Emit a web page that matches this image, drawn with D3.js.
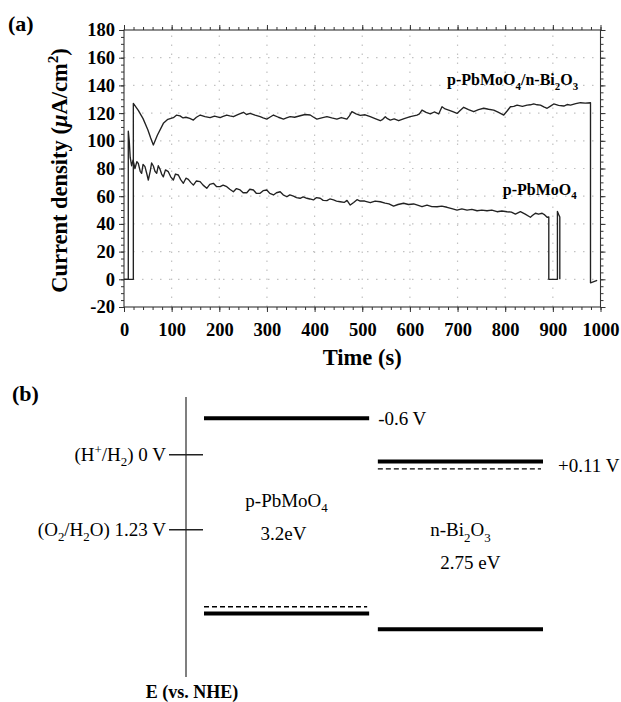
<!DOCTYPE html>
<html><head><meta charset="utf-8">
<script src="https://cdn.jsdelivr.net/npm/d3@7"></script>
<style>body{margin:0;background:#fff}svg{display:block}</style>
</head><body>
<svg id="chart" width="621" height="702"></svg>
<script>
// ---------- Panel (a) data ----------
const xTicks = [0,100,200,300,400,500,600,700,800,900,1000];
const yTicks = [-20,0,20,40,60,80,100,120,140,160,180];
const seriesNames = ["p-PbMoO4/n-Bi2O3", "p-PbMoO4"];
// [time (s), current density (uA/cm2)]
const heteroSeries = [[0,0],[19.6,0],[19.6,127],[30,122],[40,116],[50,108],[56,102],[61.6,97],[70,104],[82.6,112.6],[92,115.5],[103.6,116.7],[110,118.5],[117.6,118],[124,116.5],[130,117],[138,116.2],[145.6,115],[152,117],[160,118.6],[170,117.5],[180.7,116.7],[190,117.8],[201.7,116.7],[208,117.6],[215.7,118.6],[222,118],[229.6,117.4],[240,119],[250.7,120.6],[257,119],[264.7,119.8],[275,118.5],[285.7,117.4],[292,116.5],[299.7,115.7],[306,117],[313.7,118.6],[324,117],[334.7,115.7],[341,116.5],[348.7,117.4],[358,117],[369.7,118.1],[380,119],[390.8,118.6],[398,117],[404.8,115.7],[415,116.6],[425.8,117.4],[436,116.5],[446.8,115.7],[456,116.8],[467.8,115.7],[473,118],[478.3,121],[487,119.5],[495.8,118.3],[506,118.8],[516.8,117.4],[527,116],[537.8,114.5],[543,115.5],[548.3,117.4],[553,116],[558.8,115],[567,115.8],[576.3,114.5],[588,116],[600.8,117.4],[608,118],[614.9,118.6],[620,119.5],[625.4,122.2],[634,120.5],[642.9,119.4],[651,120.8],[660.4,119.4],[664,122],[667.4,124.6],[674,123],[681.4,122.2],[690,121],[698.9,119.8],[706,122],[712.9,124.2],[723,122.5],[733.9,121],[744,122.5],[754.9,123.5],[765,122.8],[775.9,122.2],[786,120.5],[796.9,118.6],[804,121.5],[811,124.6],[818,124.8],[825,125.8],[836,124.9],[846,125.8],[853,126],[859.9,126.6],[867,126],[874,125.8],[881,124.5],[888,123.5],[895,125],[901.9,126.6],[912,125.6],[923,125.1],[930,126.2],[937,125.8],[948,126.8],[958,127.5],[968,127.2],[979,127.5],[979,-2.5],[993,-0.8]];
const pbmoSeries = [[0,0],[9,0],[9,107],[11,100],[13,88],[16,82],[19,86],[23,80],[27,85],[30,83.7],[34,78],[37,76.5],[40,83],[44,81.3],[48,76],[51,71.7],[55,78],[58,84],[61.6,81.8],[65,78],[68.6,76.5],[72,82],[75.6,79.4],[79,76],[82.6,74],[87,79],[93,77.7],[98,74],[103.6,71.7],[108,76],[114,75.3],[119,72],[124.6,69.3],[130,73],[135,72.2],[140,70],[145.6,68],[152,71],[159.7,70.5],[166,68],[173.7,65.7],[180,68.5],[187.6,69.3],[194,67],[201.7,66.9],[208,68],[215.7,66.9],[222,65],[229.6,63.2],[236,65.5],[243.7,64.5],[250,62.5],[257.7,62.5],[264,65],[271.6,64.5],[278,62],[285.7,62.1],[292,64],[299.7,64.5],[306,62],[313.7,60.9],[320,62.5],[327.7,63.2],[334,61],[341.8,59.6],[348,61],[355.7,60.1],[362,59],[369.7,58.5],[376,59.5],[383.8,58.5],[390,58],[397.7,57.3],[404,59],[411.8,58.5],[418,57],[425.8,56.8],[432,58],[439.7,57.3],[446,56.5],[453.8,56],[462,55.5],[468,57],[474.8,53.6],[482,55.5],[489,57.5],[495.8,56.5],[505,56.5],[516.8,55.3],[527,56.5],[537.8,56],[548,55],[556,54.5],[565.8,52.9],[575,54],[586.8,54.9],[597,54],[607.8,54.4],[616,53.5],[625.4,52.4],[635.9,53.6],[646,52.5],[656.9,52.4],[667,52.8],[677.9,52],[688,51],[698.9,50],[709,50.8],[719.9,50],[730,50.5],[740.9,49.5],[751,50],[761.8,49.5],[772,50],[782.9,48.8],[793,49.3],[803.9,48.8],[813,48.5],[821.4,47.1],[831.9,48.8],[842,47],[852.9,44.8],[857,46],[863.4,47.7],[870,47],[877.5,47.7],[883,46.5],[888,44.8],[891.5,45],[891.5,0],[909.6,0],[909.6,49],[912,47],[914.6,45],[914.6,0]];

// ---------- Panel (b) data ----------
const redoxNames = ["H+/H2", "O2/H2O"];
const redoxPotentials = [0, 1.23];
const materials = ["p-PbMoO4", "n-Bi2O3"];
const conductionBand = [-0.6, 0.11];
const valenceBand = [2.6, 2.86];
const fermiLevel = [2.49, 0.23];
const bandGapLabels = ["3.2eV", "2.75 eV"];
const cbLabels = ["-0.6 V", "+0.11 V"];

// ---------- helpers ----------
const FONT = "'Liberation Serif','Times New Roman',serif";
const svg = d3.select("#chart");

function rich(textSel, parts, size) {
  let cur = 0;
  parts.forEach(p => {
    const [t, k] = Array.isArray(p) ? p : [p, ""];
    const shift = k === "sub" ? size * 0.28 : k === "sup" ? -size * 0.38 : 0;
    const ts = textSel.append("tspan").text(t);
    if (shift - cur !== 0) ts.attr("dy", shift - cur);
    if (k === "sub" || k === "sup") ts.attr("font-size", size * 0.68);
    if (k === "it") ts.attr("font-style", "italic");
    cur = shift;
  });
}
function chemParts(name) {
  const out = [];
  let buf = "";
  for (let i = 0; i < name.length; i++) {
    const c = name[i], prev = name[i - 1];
    if (/[0-9]/.test(c) && prev && /[A-Za-z]/.test(prev)) { if (buf) out.push(buf); buf = ""; out.push([c, "sub"]); }
    else if (c === "+" && prev && /[A-Za-z]/.test(prev)) { if (buf) out.push(buf); buf = ""; out.push([c, "sup"]); }
    else buf += c;
  }
  if (buf) out.push(buf);
  return out;
}

// ---------- Panel (a) ----------
const x = d3.scaleLinear().domain([0, 1000]).range([124, 600.5]);
const y = d3.scaleLinear().domain([-20, 180]).range([307, 30]);
const gA = svg.append("g");

// dotted grid
gA.append("g").selectAll("line").data(xTicks.slice(1, -1)).join("line")
  .attr("x1", d => x(d)).attr("x2", d => x(d)).attr("y1", y(-20)).attr("y2", y(180))
  .attr("stroke", "#c2c2c2").attr("stroke-width", 1.2).attr("stroke-dasharray", "1.5,7.5");
gA.append("g").selectAll("line").data(yTicks.slice(1, -1)).join("line")
  .attr("y1", d => y(d)).attr("y2", d => y(d)).attr("x1", x(0)).attr("x2", x(1000))
  .attr("stroke", "#c2c2c2").attr("stroke-width", 1.2).attr("stroke-dasharray", "1.5,7.5");

function styleAxis(g) {
  g.select(".domain").remove();
  g.selectAll("line").attr("stroke", "#333").attr("stroke-width", 1);
  g.selectAll("text").attr("font-family", FONT).attr("font-weight", "bold")
    .attr("font-size", 18.5).attr("fill", "#000");
}
const fmt = d => String(d);
const minorX = d3.range(0, 1001, 20), minorY = d3.range(-20, 181, 5);
const bottomY = y(-20), topY = y(180), leftX = x(0), rightX = x(1000);
// minor ticks
gA.append("g").attr("transform", `translate(0,${bottomY})`).call(d3.axisBottom(x).tickValues(minorX).tickSize(3).tickFormat("")).call(styleAxis);
gA.append("g").attr("transform", `translate(0,${topY})`).call(d3.axisTop(x).tickValues(minorX).tickSize(3).tickFormat("")).call(styleAxis);
gA.append("g").attr("transform", `translate(${leftX},0)`).call(d3.axisLeft(y).tickValues(minorY).tickSize(3).tickFormat("")).call(styleAxis);
gA.append("g").attr("transform", `translate(${rightX},0)`).call(d3.axisRight(y).tickValues(minorY).tickSize(3).tickFormat("")).call(styleAxis);
// major ticks
gA.append("g").attr("transform", `translate(0,${bottomY})`).call(d3.axisBottom(x).tickValues(xTicks).tickSize(5).tickPadding(11).tickFormat(fmt)).call(styleAxis);
gA.append("g").attr("transform", `translate(0,${topY})`).call(d3.axisTop(x).tickValues(xTicks).tickSize(5).tickFormat("")).call(styleAxis);
gA.append("g").attr("transform", `translate(${leftX},0)`).call(d3.axisLeft(y).tickValues(yTicks).tickSize(5).tickPadding(4).tickFormat(fmt)).call(styleAxis);
gA.append("g").attr("transform", `translate(${rightX},0)`).call(d3.axisRight(y).tickValues(yTicks).tickSize(5).tickFormat("")).call(styleAxis);

// frame
gA.append("rect").attr("x", leftX).attr("y", topY).attr("width", rightX - leftX).attr("height", bottomY - topY)
  .attr("fill", "none").attr("stroke", "#333").attr("stroke-width", 1.1);

// curves
const line = d3.line().x(d => x(d[0])).y(d => y(d[1]));
[pbmoSeries, heteroSeries].forEach(s => {
  gA.append("path").datum(s).attr("d", line).attr("fill", "none")
    .attr("stroke", "#222").attr("stroke-width", 1.35).attr("stroke-linejoin", "round");
});

// series labels
const lab1 = gA.append("text").attr("x", x(678)).attr("y", y(140)).attr("font-family", FONT)
  .attr("font-weight", "bold").attr("font-size", 16);
rich(lab1, chemParts(seriesNames[0]), 16);
const lab2 = gA.append("text").attr("x", x(795)).attr("y", y(61)).attr("font-family", FONT)
  .attr("font-weight", "bold").attr("font-size", 16);
rich(lab2, chemParts(seriesNames[1]), 16);

// axis titles
gA.append("text").attr("x", (leftX + rightX) / 2).attr("y", 365).attr("text-anchor", "middle")
  .attr("font-family", FONT).attr("font-weight", "bold").attr("font-size", 22.5).text("Time (s)");
const yl = gA.append("text").attr("transform", `translate(67,${(topY + bottomY) / 2 + 2}) rotate(-90)`)
  .attr("text-anchor", "middle").attr("font-family", FONT).attr("font-weight", "bold").attr("font-size", 22.5);
rich(yl, ["Current density (", ["\u03BC", "it"], "A/cm", ["2", "sup"], ")"], 22.5);

gA.append("text").attr("x", 8).attr("y", 31).attr("font-family", FONT).attr("font-weight", "bold")
  .attr("font-size", 22).text("(a)");

// ---------- Panel (b) ----------
const gB = svg.append("g");
gB.append("text").attr("x", 12).attr("y", 401).attr("font-family", FONT).attr("font-weight", "bold")
  .attr("font-size", 22).text("(b)");

const yE = d3.scaleLinear().domain([-0.6, 2.86]).range([418.2, 629.3]);
const xM = d3.scaleBand().domain(materials).range([204, 543]).paddingInner(0.05).paddingOuter(0);
const bw = xM.bandwidth();

// E axis
const axisX = 186;
gB.append("line").attr("x1", axisX).attr("x2", axisX).attr("y1", 397).attr("y2", 677)
  .attr("stroke", "#555").attr("stroke-width", 1.5);
gB.append("text").attr("x", 192).attr("y", 698).attr("text-anchor", "middle")
  .attr("font-family", FONT).attr("font-weight", "bold").attr("font-size", 18).text("E (vs. NHE)");

// redox ticks
redoxPotentials.forEach((v, i) => {
  gB.append("line").attr("x1", 169).attr("x2", 203).attr("y1", yE(v)).attr("y2", yE(v))
    .attr("stroke", "#222").attr("stroke-width", 1.5);
  const t = gB.append("text").attr("x", 166).attr("y", yE(v) + 6).attr("text-anchor", "end")
    .attr("font-family", FONT).attr("font-size", 19);
  rich(t, ["("].concat(chemParts(redoxNames[i])).concat([") " + String(v) + " V"]), 19);
});

// bands
materials.forEach((m, i) => {
  const x0 = xM(m), x1 = x0 + bw, cx = x0 + bw / 2;
  [conductionBand[i], valenceBand[i]].forEach(v => {
    gB.append("line").attr("x1", x0).attr("x2", x1).attr("y1", yE(v)).attr("y2", yE(v))
      .attr("stroke", "#000").attr("stroke-width", 4);
  });
  gB.append("line").attr("x1", x0).attr("x2", x1 - 2).attr("y1", yE(fermiLevel[i])).attr("y2", yE(fermiLevel[i]))
    .attr("stroke", "#000").attr("stroke-width", 1.3).attr("stroke-dasharray", "5,3");
  const mid = (yE(conductionBand[i]) + yE(valenceBand[i])) / 2;
  const nm = gB.append("text").attr("x", cx).attr("y", mid - 9).attr("text-anchor", "middle")
    .attr("font-family", FONT).attr("font-size", 19);
  rich(nm, chemParts(m), 19);
  gB.append("text").attr("x", cx + (i === 1 ? 10 : -3)).attr("y", mid + 24).attr("text-anchor", "middle")
    .attr("font-family", FONT).attr("font-size", 19).text(bandGapLabels[i]);
  const ly = i === 0 ? yE(conductionBand[i]) + 7 : (yE(conductionBand[i]) + yE(fermiLevel[i])) / 2 + 7;
  gB.append("text").attr("x", x1 + (i === 0 ? 9 : 15)).attr("y", ly)
    .attr("font-family", FONT).attr("font-size", 19).text(cbLabels[i]);
});
</script>
</body></html>
